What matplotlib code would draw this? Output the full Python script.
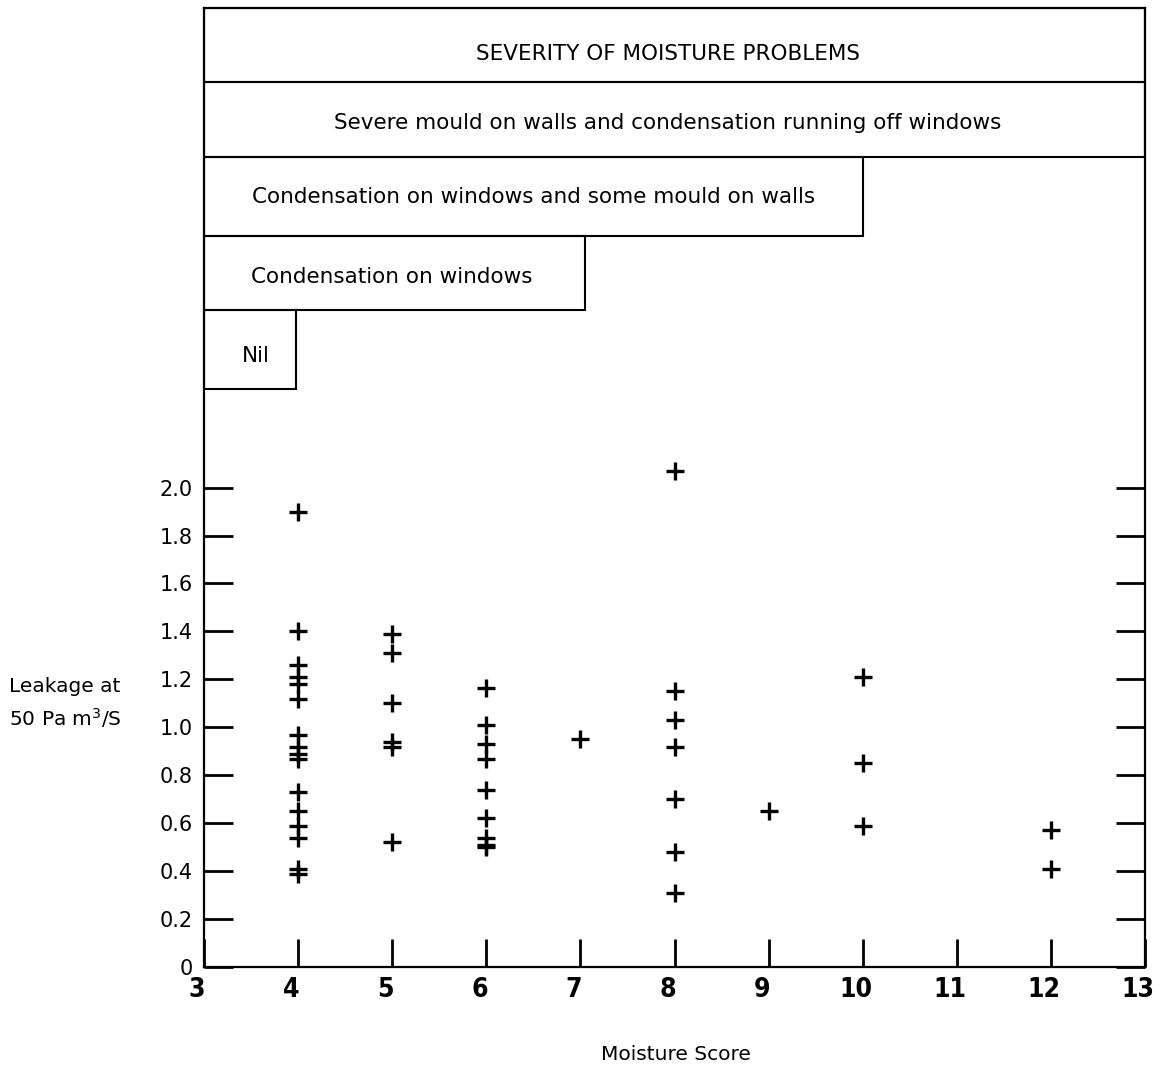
import numpy as np
import matplotlib
matplotlib.use('Agg')
import matplotlib.pyplot as plt
from matplotlib.patches import Rectangle
from matplotlib.transforms import ScaledTranslation

plt.rcParams['font.family'] = ['DejaVu Sans']

# Moisture score vs leakage at 50 Pa (m3/s)
score_4 = [1.90, 1.40, 1.26, 1.21, 1.18, 1.12, 0.97, 0.92, 0.89, 0.87, 0.73, 0.65, 0.59, 0.54, 0.41, 0.39]
score_5 = [1.39, 1.31, 1.10, 0.94, 0.92, 0.52]
score_6 = [1.165, 1.01, 0.93, 0.87, 0.74, 0.62, 0.54, 0.51, 0.50]
score_7 = [0.95]
score_8 = [2.07, 1.15, 1.03, 0.92, 0.70, 0.48, 0.31]
score_9 = [0.65]
score_10 = [1.21, 0.85, 0.59]
score_12 = [0.57, 0.41]

groups = {4: score_4, 5: score_5, 6: score_6, 7: score_7,
          8: score_8, 9: score_9, 10: score_10, 12: score_12}

# severity bands drawn above the data
band_labels = ['SEVERITY OF MOISTURE PROBLEMS',
               'Severe mould on walls and condensation running off windows',
               'Condensation on windows and some mould on walls',
               'Condensation on windows',
               'Nil']
band_right = [13, 13, 10, 7.05, 3.98]
band_bottom = [3.69, 3.38, 3.05, 2.74, 2.41]
band_top = [4.0, 3.69, 3.38, 3.05, 2.74]
band_text_x = [7.93, 7.93, 6.5, 5.0, 3.55]
band_text_y = [3.81, 3.52, 3.21, 2.88, 2.55]

x_ticks = list(range(3, 14))
y_ticks = [0, 0.2, 0.4, 0.6, 0.8, 1.0, 1.2, 1.4, 1.6, 1.8, 2.0]
y_labels = ['0', '0.2', '0.4', '0.6', '0.8', '1.0', '1.2', '1.4', '1.6', '1.8', '2.0']

fig = plt.figure(figsize=(11.59, 10.71), dpi=100)
ax = fig.add_axes([0.176, 0.097, 0.812, 0.8955])

for s, vals in groups.items():
    ax.plot([s] * len(vals), vals, '+', color='black', markersize=13, mew=2.4)

# bands
for lab, r, b, t, tx, ty in zip(band_labels, band_right, band_bottom, band_top, band_text_x, band_text_y):
    ax.add_patch(Rectangle((3, b), r - 3, t - b, fill=False, edgecolor='black', lw=1.5))
    ax.text(tx, ty, lab, ha='center', va='center', fontsize=15.5)

ax.set_xlim(3, 13)
ax.set_ylim(0, 4.0)

ax.set_xticks(x_ticks)
ax.set_xticklabels([str(v) for v in x_ticks], fontsize=19, fontweight='bold',
                   fontstretch='condensed')
ax.set_yticks(y_ticks)
ax.set_yticklabels(y_labels, fontsize=15)

ax.tick_params(axis='x', direction='in', length=20, width=2, pad=7, top=False)
ax.tick_params(axis='y', direction='in', length=21, width=2, pad=8, right=True)

# the printed x numbers sit a little left of their ticks
shift = ScaledTranslation(-7 / 100, 0, fig.dpi_scale_trans)
for lbl in ax.get_xticklabels():
    lbl.set_transform(lbl.get_transform() + shift)

for sp in ax.spines.values():
    sp.set_linewidth(1.6)

fig.text(0.008, 0.343, 'Leakage at\n50 Pa m$^3$/S', ha='left', va='center', fontsize=14.5, linespacing=1.5)
fig.text(0.583, 0.015, 'Moisture Score', ha='center', va='center', fontsize=14.5)

fig.savefig('out.png', dpi=100)
